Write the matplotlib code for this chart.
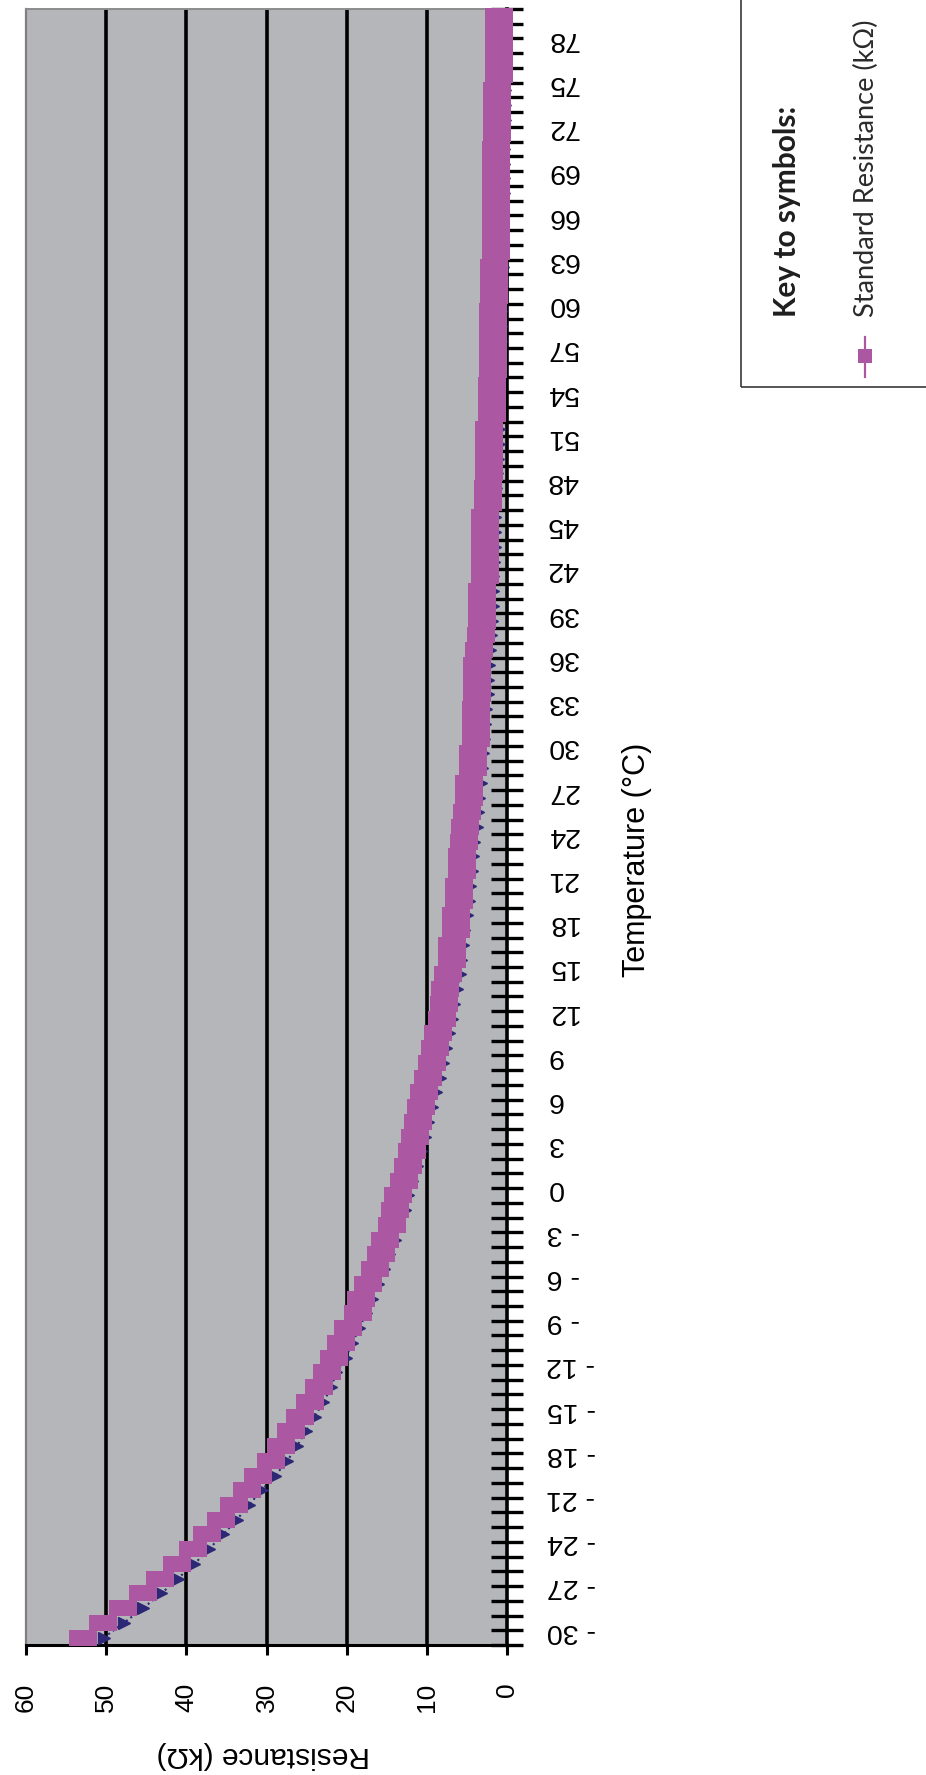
import numpy as np
import matplotlib
matplotlib.use("Agg")
import matplotlib.pyplot as plt
import matplotlib.transforms as mtransforms
from matplotlib.patches import Rectangle
from matplotlib.lines import Line2D

plt.rcParams['font.family'] = ['Liberation Sans', 'DejaVu Sans']

# temperature categories (deg C), one per row of the chart
temps = np.arange(-30, 81)

# Standard Resistance (kOhm)
standard = [52.9, 50.4, 47.9, 45.4, 43.3, 41.2, 39.2, 37.4, 35.7, 34.0,
            32.4, 31.1, 29.5, 28.2, 27.0, 25.8, 24.6, 23.5, 22.4, 21.6,
            20.7, 19.8, 18.6, 18.2, 17.3, 16.5, 15.7, 15.2, 14.4, 14.0,
            13.6, 12.8, 12.3, 11.9, 11.5, 11.1, 10.7, 10.3, 9.9, 9.4,
            9.0, 8.6, 8.1, 7.9, 7.7, 7.3, 6.8, 6.8, 6.4, 6.4,
            6.0, 6.0, 5.6, 5.6, 5.4, 5.2, 5.0, 4.8, 4.8, 4.3,
            4.3, 3.9, 3.9, 3.9, 3.7, 3.7, 3.7, 3.5, 3.3, 3.1,
            3.1, 3.1, 2.7, 2.7, 2.7, 2.7, 2.7, 2.4, 2.4, 2.2,
            2.2, 2.2, 2.2, 1.9, 1.9, 1.9, 1.8, 1.8, 1.8, 1.8,
            1.8, 1.6, 1.6, 1.6, 1.4, 1.4, 1.4, 1.4, 1.4, 1.4,
            1.4, 1.4, 1.2, 1.2, 1.2, 1.2, 1.0, 1.0, 1.0, 1.0,
            1.0]

# second (navy) series, mostly hidden under the pink one
measured = [50.3, 47.8, 45.4, 43.1, 41.1, 39.0, 37.2, 35.4, 33.7, 32.2,
            30.6, 28.9, 27.4, 26.2, 25.1, 24.0, 22.9, 21.9, 21.3, 20.1,
            19.3, 18.4, 17.6, 16.8, 16.1, 15.3, 14.7, 14.0, 13.5, 12.7,
            12.3, 11.8, 11.2, 10.7, 10.2, 9.8, 9.4, 8.8, 8.4, 8.0,
            7.6, 7.2, 6.9, 6.6, 6.2, 5.9, 5.7, 5.55, 5.4, 5.0,
            4.8, 4.6, 4.4, 4.2, 4.1, 3.7, 3.6, 3.45, 3.3, 3.1,
            3.0, 2.9, 2.8, 2.6, 2.4, 2.4, 2.2, 2.06, 2.0, 1.9,
            1.8, 1.75, 1.7, 1.65, 1.5, 1.5, 1.5, 1.45, 1.37, 1.25,
            1.15, 1.06, 1.06, 1.06, 1.0, 1.0, 0.9, 0.85, 0.8, 0.75,
            0.7, 0.6, 0.6, 0.55, 0.5, 0.5, 0.45, 0.45, 0.4, 0.4,
            0.4, 0.35, 0.35, 0.3, 0.3, 0.3, 0.25, 0.25, 0.2, 0.2,
            0.2]

res_ticks = [0, 10, 20, 30, 40, 50, 60]
temp_labels = np.arange(-30, 79, 3)

pink = '#ab57a2'
navy = '#2c2876'
W, H = 926, 1775

fig = plt.figure(figsize=(W / 100, H / 100), dpi=100)
ax = fig.add_axes([26 / W, 1 - 1645 / H, (507 - 26) / W, (1645 - 9) / H])
ax.set_facecolor('#b5b6ba')

for v in res_ticks[1:-1]:
    ax.axvline(v, color='black', lw=2.6, zorder=1)

ax.plot(measured, temps, color=navy, ls=':', lw=1.5, marker='>', ms=9,
        mec=navy, mfc=navy, zorder=2.8, clip_on=False)
rect = [(-1, -0.57), (1, -0.57), (1, 0.57), (-1, 0.57), (-1, -0.57)]
ax.plot(standard, temps, color=pink, lw=2, marker=rect, ms=20.2,
        mfc=pink, mec=pink, mew=0, zorder=3, clip_on=False)

ax.set_xlim(60, 0)
ax.set_ylim(-30.5, 80.5)

# spines
ax.spines['left'].set_color('#7f7f7f')
ax.spines['left'].set_linewidth(1.6)
ax.spines['top'].set_color('#8c8c8c')
ax.spines['top'].set_linewidth(1.4)
ax.spines['right'].set_color('black')
ax.spines['right'].set_linewidth(2.6)
ax.spines['bottom'].set_color('black')
ax.spines['bottom'].set_linewidth(2.2)

# resistance axis (horizontal)
ax.set_xticks(res_ticks)
ax.set_xticklabels([str(v) for v in res_ticks])
ax.tick_params(axis='x', direction='out', length=7, width=2.2, color='black',
               labelsize=19, labelrotation=90, pad=20)

# temperature axis (vertical, on the right)
ax.yaxis.tick_right()
ax.set_yticks(temp_labels)
ax.set_yticklabels([str(t).replace('-', '- ') for t in temp_labels])
ax.set_yticks(np.arange(-30.5, 81, 1), minor=True)
ax.tick_params(axis='y', which='major', length=0, labelsize=20.5,
               labelrotation=180, pad=28.5)
ax.tick_params(axis='y', which='minor', direction='inout', length=23,
               width=2.4, color='black')
ax.tick_params(axis='y', which='major', direction='inout', length=0)

offset = mtransforms.ScaledTranslation(0, 7 / 100, fig.dpi_scale_trans)
for tk in ax.yaxis.get_major_ticks():
    tk.label2.set_transform(tk.label2.get_transform() + offset)
    tk.label2.set_verticalalignment('center')

# axis titles
fig.text(263 / W, 1 - 1755 / H, 'Resistance (k\u03a9)', rotation=180,
         ha='center', va='center', fontsize=21.5)
fig.text(637 / W, 1 - 860 / H, 'Temperature (\u00b0C)', rotation=90,
         ha='center', va='center', fontsize=22)

# key box
fig.add_artist(Rectangle((741 / W, 1 - 387 / H), 0.5, 0.5,
                         transform=fig.transFigure, fill=False,
                         ec='#3a3a3a', lw=1.2))
fig.text(787 / W, 1 - 317 / H, 'Key to symbols:', rotation=90,
         rotation_mode='anchor', ha='left', va='center', fontsize=21.5,
         weight='bold', family=['Lato', 'DejaVu Sans'], color='#1e1e1e')
fig.text(866 / W, 1 - 317 / H, 'Standard Resistance (k\u03a9)', rotation=90,
         rotation_mode='anchor', ha='left', va='center', fontsize=19.5,
         family=['Lato', 'DejaVu Sans'], color='#2a2a2a')
fig.add_artist(Line2D([865 / W, 865 / W], [1 - 337 / H, 1 - 377 / H],
                      transform=fig.transFigure, color=pink, lw=1.6))
fig.add_artist(Line2D([865 / W], [1 - 356 / H], transform=fig.transFigure,
                      color=pink, marker='s', ms=10, mew=0))

fig.savefig('out.png', dpi=100)
